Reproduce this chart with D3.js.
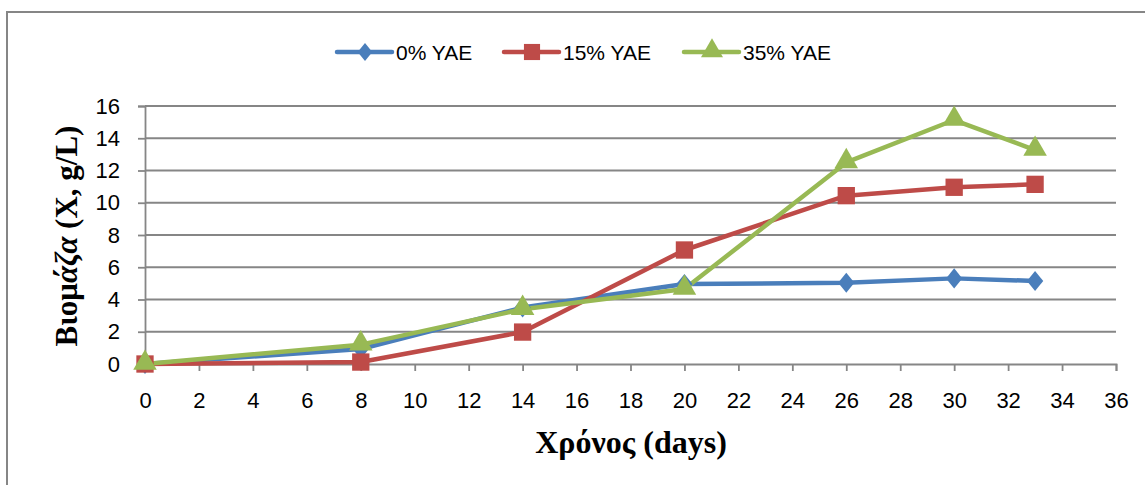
<!DOCTYPE html>
<html>
<head>
<meta charset="utf-8">
<script src="https://cdn.jsdelivr.net/npm/d3@7"></script>
<style>
  html, body { margin: 0; padding: 0; background: #fff; }
  svg { display: block; }
</style>
</head>
<body>
<svg id="chart" width="1145" height="485"></svg>
<script>
// Sampling days and biomass (g/L) for each YAE level
const days = [0, 8, 14, 20, 26, 30, 33];
const yae0 = [0, 0.93, 3.5, 4.96, 5.04, 5.31, 5.15];
const yae15 = [0, 0.12, 1.98, 7.07, 10.44, 10.96, 11.14];
const yae35 = [0, 1.2, 3.4, 4.65, 12.5, 15.13, 13.27];
const seriesNames = ["0% YAE", "15% YAE", "35% YAE"];
const xTicks = d3.range(0, 37, 2);
const yTicks = d3.range(0, 17, 2);

const colors = ["#4a7ebb", "#be4b48", "#98b954"];

// diamond slightly taller than wide
const tallDiamond = {
  draw(ctx, size) {
    const r = Math.sqrt(size);
    const w = r * 0.47, h = r * 0.58;
    ctx.moveTo(0, -h); ctx.lineTo(w, 0); ctx.lineTo(0, h); ctx.lineTo(-w, 0); ctx.closePath();
  }
};
const symbols = [tallDiamond, d3.symbolSquare, d3.symbolTriangle];
const symSizes = [300, 300, 240];
const legSizes = [240, 260, 210];

const svg = d3.select("#chart");

// outer chart frame
svg.append("rect")
  .attr("x", 7).attr("y", 12).attr("width", 1160).attr("height", 500)
  .attr("fill", "#fff").attr("stroke", "#868686").attr("stroke-width", 2);

const x = d3.scaleLinear().domain([0, 36]).range([145, 1116]);
const y = d3.scaleLinear().domain([0, 16]).range([364, 106]);

// horizontal gridlines
svg.append("g").selectAll("line").data(yTicks.filter(d => d > 0)).join("line")
  .attr("x1", x(0)).attr("x2", x(36))
  .attr("y1", d => y(d)).attr("y2", d => y(d))
  .attr("stroke", "#868686").attr("stroke-width", 1.8);

// y axis
const yAxis = svg.append("g").attr("transform", `translate(${x(0)},0)`)
  .call(d3.axisLeft(y).tickValues(yTicks).tickSize(7).tickPadding(18).tickFormat(d3.format("d")));
// x axis
const xAxis = svg.append("g").attr("transform", `translate(0,${y(0)})`)
  .call(d3.axisBottom(x).tickValues(xTicks).tickSize(7).tickPadding(21).tickFormat(d3.format("d")));

[yAxis, xAxis].forEach(g => {
  g.select(".domain").attr("stroke", "#868686").attr("stroke-width", 1.8);
  g.selectAll(".tick line").attr("stroke", "#868686").attr("stroke-width", 1.8);
  g.selectAll(".tick text").attr("fill", "#000")
    .style("font-family", "'Liberation Sans', Arial, sans-serif").style("font-size", "22px");
});

// series
const allSeries = [yae0, yae15, yae35];
const line = d3.line().x((d, i) => x(days[i])).y(d => y(d));

allSeries.forEach((vals, s) => {
  svg.append("path").datum(vals)
    .attr("d", line).attr("fill", "none")
    .attr("stroke", colors[s]).attr("stroke-width", 4.5)
    .attr("stroke-linejoin", "round").attr("stroke-linecap", "round");
});
allSeries.forEach((vals, s) => {
  svg.append("g").selectAll("path").data(vals).join("path")
    .attr("d", d3.symbol().type(symbols[s]).size(symSizes[s]))
    .attr("transform", (d, i) => `translate(${x(days[i])},${y(d) + (s === 2 ? -1 : 0)})`)
    .attr("fill", colors[s]);
});

// legend
const legX = [337, 504, 684];
const legend = svg.append("g");
seriesNames.forEach((name, s) => {
  const g = legend.append("g").attr("transform", `translate(${legX[s]},52)`);
  g.append("line").attr("x1", 0).attr("x2", 55).attr("y1", 0).attr("y2", 0)
    .attr("stroke", colors[s]).attr("stroke-width", 4.5).attr("stroke-linecap", "round");
  g.append("path").attr("d", d3.symbol().type(symbols[s]).size(legSizes[s])())
    .attr("transform", `translate(28,${s === 2 ? -1 : 0})`).attr("fill", colors[s]);
  g.append("text").attr("x", 59).attr("y", 0).attr("dy", "0.36em")
    .style("font-family", "'Liberation Sans', Arial, sans-serif").style("font-size", "21px")
    .attr("fill", "#000").text(name);
});

// axis titles
svg.append("text")
  .attr("x", 631).attr("y", 453).attr("text-anchor", "middle")
  .style("font-family", "'Liberation Serif', 'Times New Roman', serif")
  .style("font-size", "32px").style("font-weight", "bold")
  .text("Χρόνος (days)");

const yt = svg.append("text")
  .attr("transform", "translate(77,236) rotate(-90)").attr("text-anchor", "middle")
  .style("font-family", "'Liberation Serif', 'Times New Roman', serif")
  .style("font-size", "31px").style("font-weight", "bold");
yt.append("tspan").text("Βιομ");
yt.append("tspan").style("font-style", "italic").text("άζα");
yt.append("tspan").text(" (X, g/L)");
</script>
</body>
</html>
